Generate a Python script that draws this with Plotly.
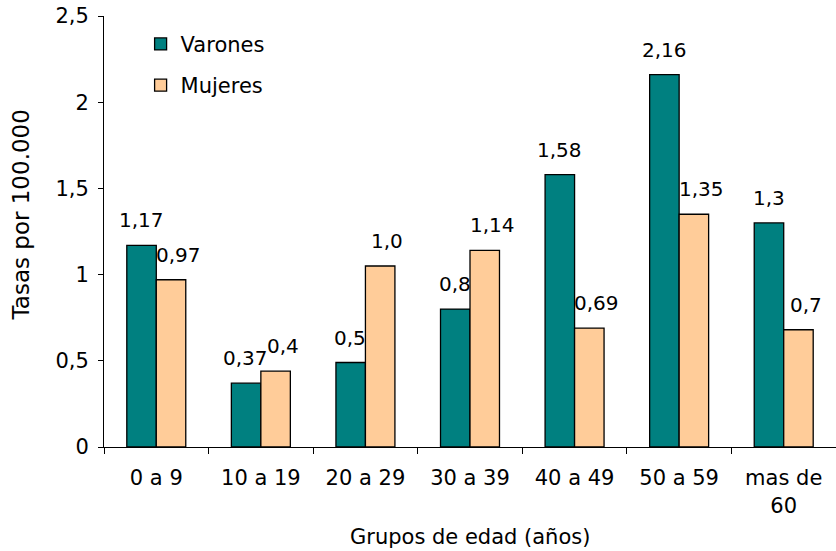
import plotly.graph_objects as go

categories = ["0 a 9", "10 a 19", "20 a 29", "30 a 39", "40 a 49", "50 a 59", "mas de<br>60"]
varones = [1.17, 0.37, 0.49, 0.80, 1.58, 2.16, 1.30]
mujeres = [0.97, 0.44, 1.05, 1.14, 0.69, 1.35, 0.68]
varones_labels = ["1,17", "0,37", "0,5", "0,8", "1,58", "2,16", "1,3"]
mujeres_labels = ["0,97", "0,4", "1,0", "1,14", "0,69", "1,35", "0,7"]
y_ticks = [0, 0.5, 1, 1.5, 2, 2.5]
y_ticklabels = ["0", "0,5", "1", "1,5", "2", "2,5"]

FONT = "DejaVu Sans, Liberation Sans, Arial, sans-serif"

fig = go.Figure()
fig.add_trace(go.Bar(name="Varones", x=categories, y=varones,
                     marker=dict(color="#008080", line=dict(color="#000000", width=1.3)),
                     legendgroup="v"))
fig.add_trace(go.Bar(name="Mujeres", x=categories, y=mujeres,
                     marker=dict(color="#FFCC99", line=dict(color="#000000", width=1.3)),
                     legendgroup="m"))

annotations = []
for cat, val, lab in zip(categories, varones, varones_labels):
    annotations.append(dict(x=cat, y=val, text=lab, showarrow=False, xref="x", yref="y",
                            xanchor="center", yanchor="bottom", xshift=-15, yshift=11,
                            font=dict(family=FONT, size=20, color="#000000")))
for cat, val, lab in zip(categories, mujeres, mujeres_labels):
    annotations.append(dict(x=cat, y=val, text=lab, showarrow=False, xref="x", yref="y",
                            xanchor="center", yanchor="bottom", xshift=22, yshift=11,
                            font=dict(family=FONT, size=20, color="#000000")))

# axis titles
annotations.append(dict(text="Grupos de edad (años)", x=0.5, y=-0.2088, xref="paper", yref="paper",
                        xanchor="center", yanchor="middle", showarrow=False,
                        font=dict(family=FONT, size=21, color="#000000")))
annotations.append(dict(text="Tasas por 100.000", x=-0.113, y=0.538, xref="paper", yref="paper",
                        xanchor="center", yanchor="middle", textangle=-90, showarrow=False,
                        font=dict(family=FONT, size=23, color="#000000")))
# partially visible chart title at the top edge
annotations.append(dict(text="n = 137", x=0.441, y=1, xref="paper", yref="paper",
                        xanchor="center", yanchor="bottom", yshift=10, showarrow=False,
                        font=dict(family=FONT, size=21, color="#000000")))

fig.update_layout(
    width=836, height=551,
    margin=dict(l=104, r=0, t=16, b=104),
    paper_bgcolor="white", plot_bgcolor="white",
    barmode="group", bargap=0.436, bargroupgap=0,
    separators=",.",
    font=dict(family=FONT, size=21, color="#000000"),
    showlegend=True,
    legend=dict(x=0.05, y=0.982, xanchor="left", yanchor="top",
                bgcolor="rgba(0,0,0,0)", tracegroupgap=11,
                font=dict(family=FONT, size=21, color="#000000")),
    annotations=annotations,
    xaxis=dict(type="category", range=[-0.5, 6.5], showline=True, linecolor="#000000", linewidth=1,
               ticks="outside", tickson="boundaries", ticklen=6, tickcolor="#000000",
               showgrid=False, zeroline=False, ticklabelstandoff=12,
               tickfont=dict(family=FONT, size=21, color="#000000")),
    yaxis=dict(range=[0, 2.5], tickvals=y_ticks, ticktext=y_ticklabels,
               showline=True, linecolor="#000000", linewidth=1,
               ticks="outside", ticklen=5, tickcolor="#000000",
               showgrid=False, zeroline=False, ticklabelstandoff=5,
               tickfont=dict(family=FONT, size=21, color="#000000")),
)

fig.write_html("out.html", config={"displayModeBar": False},
               post_script="document.body.style.margin='0';document.body.style.overflow='hidden';")
